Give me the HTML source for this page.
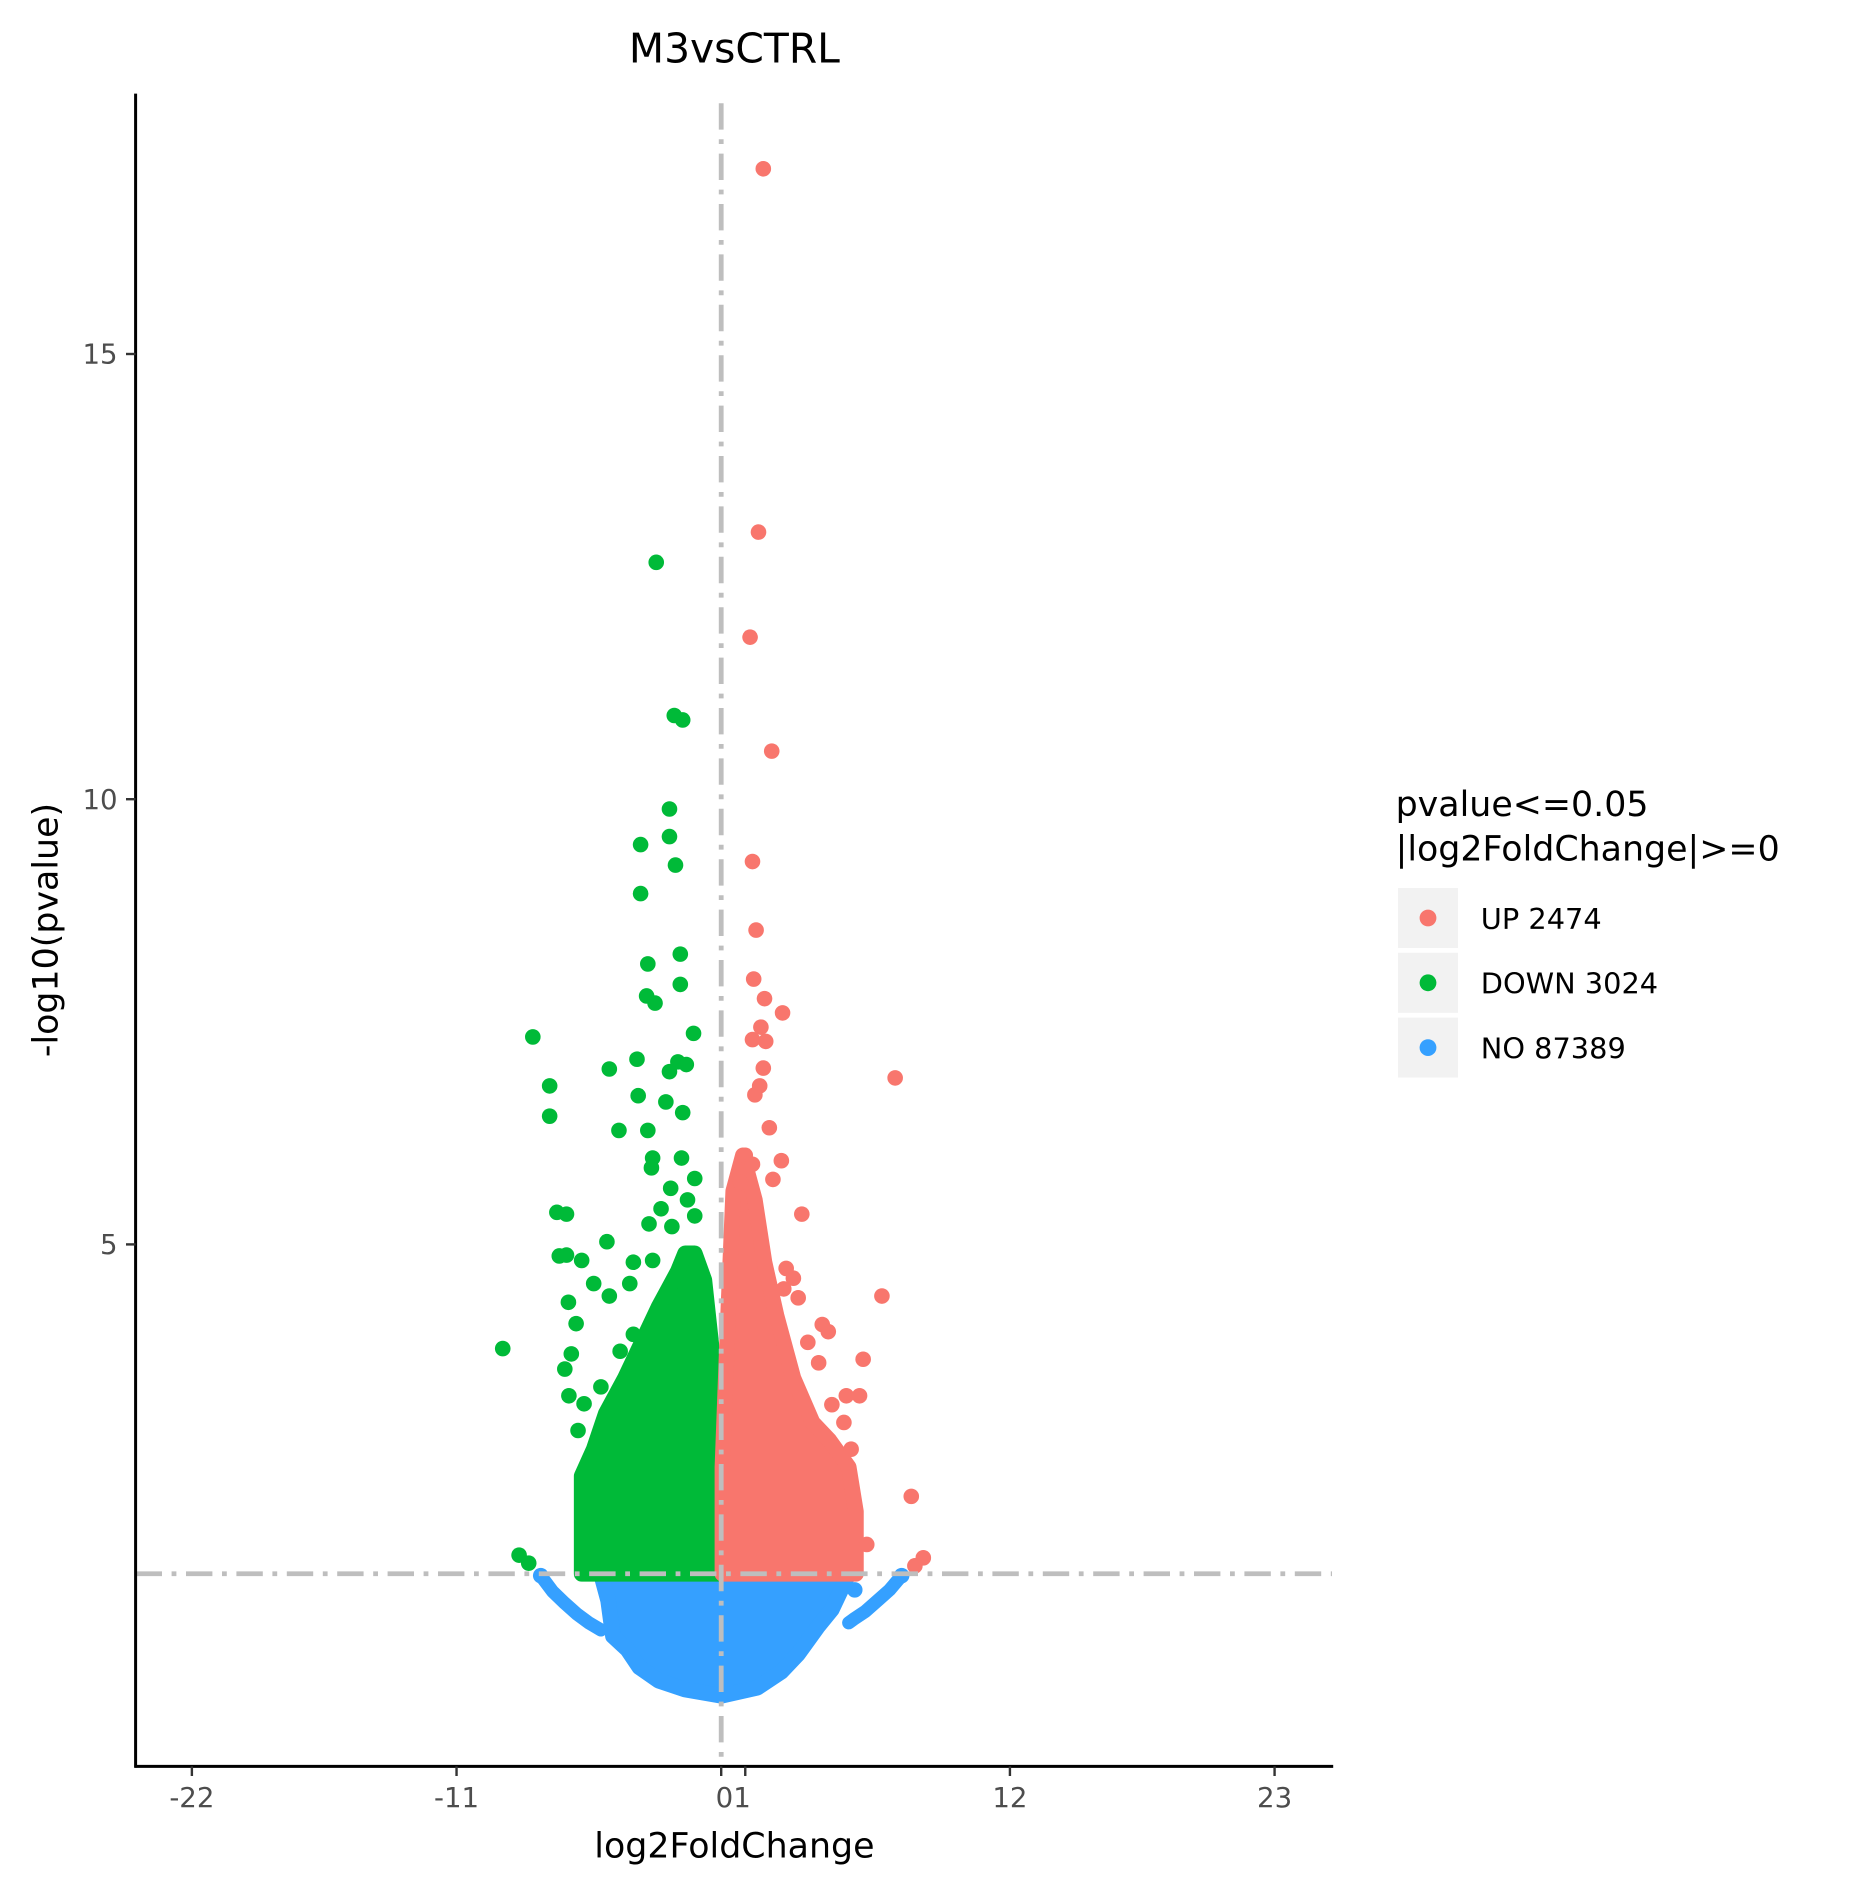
<!DOCTYPE html>
<html><head><meta charset="utf-8"><style>body{margin:0;background:#fff}svg{display:block;font-family:"DejaVu Sans","Liberation Sans",sans-serif}</style></head>
<body>
<svg id="chart" width="1860" height="1884" viewBox="0 0 1550 1570" xmlns="http://www.w3.org/2000/svg">
<rect width="1550" height="1570" fill="#fff"/>
<text x="612" y="52" font-size="34" text-anchor="middle">M3vsCTRL</text>
<g id="dense"></g><g id="pts"></g><g id="refs"></g>
<line x1="113" y1="78" x2="113" y2="1473" stroke="#000" stroke-width="2.5"/>
<line x1="112" y1="1472" x2="1111" y2="1472" stroke="#000" stroke-width="2.5"/>
<g id="ticks"></g>
<text x="612" y="1548" font-size="29" text-anchor="middle">log2FoldChange</text>
<text transform="translate(48,775) rotate(-90)" font-size="29" text-anchor="middle">-log10(pvalue)</text>
<g>
<text x="1163" y="680" font-size="29">pvalue&lt;=0.05</text>
<text x="1163" y="717" font-size="29">|log2FoldChange|&gt;=0</text>
<g><rect x="1165" y="740" width="50" height="50" fill="#f2f2f2"/><circle cx="1190" cy="765" r="7" fill="#F8766D"/><text x="1234" y="774" font-size="24">UP 2474</text></g>
<g><rect x="1165" y="794" width="50" height="50" fill="#f2f2f2"/><circle cx="1190" cy="819" r="7" fill="#00BA38"/><text x="1234" y="828" font-size="24">DOWN 3024</text></g>
<g><rect x="1165" y="848" width="50" height="50" fill="#f2f2f2"/><circle cx="1190" cy="873" r="7" fill="#35A0FF"/><text x="1234" y="882" font-size="24">NO 87389</text></g>
</g>
</svg>
<script>
const xTicks=[-22,-11,0,1,12,23];
const yTicks=[5,10,15];
const upPoints=[[1.75,17.08],[1.55,13.0],[1.2,11.82],[2.1,10.54],[1.3,9.3],[1.45,8.53],[1.35,7.98],[1.8,7.76],[2.55,7.6],[1.65,7.44],[1.85,7.28],[1.3,7.3],[1.75,6.98],[7.23,6.87],[1.6,6.78],[1.4,6.68],[2.0,6.31],[2.5,5.94],[2.15,5.73],[3.35,5.34],[2.7,4.73],[6.68,4.42],[3.0,4.62],[4.2,4.1],[4.45,4.02],[5.9,3.71],[4.05,3.67],[5.2,3.3],[5.75,3.3],[7.9,2.17],[6.05,1.63],[8.4,1.48],[8.05,1.39],[1.0,6.0],[1.3,5.9],[0.8,5.7],[3.2,4.4],[2.6,4.5],[3.6,3.9],[5.1,3.0],[5.4,2.7],[4.6,3.2]];
const downPoints=[[-2.7,12.66],[-1.95,10.94],[-1.6,10.89],[-2.15,9.89],[-2.15,9.58],[-3.35,9.49],[-1.9,9.26],[-3.35,8.94],[-1.7,8.26],[-3.05,8.15],[-1.7,7.92],[-3.1,7.79],[-2.75,7.71],[-1.15,7.37],[-7.83,7.33],[-3.5,7.08],[-4.65,6.97],[-1.8,7.05],[-2.15,6.94],[-1.45,7.02],[-7.13,6.78],[-3.45,6.67],[-2.3,6.6],[-7.13,6.44],[-1.6,6.48],[-4.25,6.28],[-3.05,6.28],[-2.85,5.97],[-1.65,5.97],[-2.9,5.86],[-1.1,5.74],[-2.1,5.63],[-6.83,5.36],[-6.43,5.34],[-3.0,5.23],[-2.05,5.2],[-1.1,5.32],[-4.75,5.03],[-6.73,4.87],[-6.43,4.88],[-5.8,4.82],[-3.65,4.8],[-2.85,4.82],[-9.08,3.83],[-8.4,1.51],[-8.0,1.42],[-5.3,4.56],[-6.35,4.35],[-6.03,4.11],[-6.23,3.77],[-6.33,3.3],[-5.7,3.21],[-5.95,2.91],[-4.65,4.42],[-3.8,4.56],[-3.65,3.99],[-2.5,5.4],[-1.4,5.5],[-4.2,3.8],[-5.0,3.4],[-6.5,3.6]];
const noPoints=[[5.55,1.12],[-7.5,1.28],[7.5,1.28]];
const downEnvelope=[[-5.8,1.3],[-5.8,2.4],[-5.3,2.7],[-4.8,3.1],[-4.0,3.5],[-3.3,3.9],[-2.6,4.3],[-2.2,4.5],[-1.8,4.7],[-1.5,4.9],[-1.1,4.9],[-0.7,4.6],[-0.3,3.6],[0,2.4],[0,1.3]];
const upEnvelope=[[0.05,1.3],[0.05,2.5],[0.3,4.3],[0.5,5.6],[0.9,6.0],[1.4,5.5],[1.8,4.8],[2.3,4.2],[3.0,3.5],[3.8,3.0],[4.5,2.8],[5.3,2.5],[5.6,2.0],[5.6,1.3]];
const noEnvelope=[[-5.0,1.3],[-4.7,1.0],[-4.5,0.6],[-3.9,0.45],[-3.4,0.25],[-2.6,0.1],[-1.5,0.0],[0,-0.07],[1.5,0.02],[2.5,0.2],[3.2,0.4],[4.0,0.7],[4.6,0.9],[5.3,1.3]];
const noArmLeft=[[-7.5,1.28],[-7.0,1.1],[-6.5,0.97],[-6.0,0.85],[-5.5,0.75],[-5.0,0.67]];
const noArmRight=[[7.5,1.28],[7.0,1.12],[6.5,1.0],[6.0,0.88],[5.5,0.79],[5.3,0.75]];
const pThreshold=1.301;

const NS="http://www.w3.org/2000/svg";
const sx=v=>601+v*20.05;
const sy=v=>1408-v*74.2;
function mk(tag,parent){const e=document.createElementNS(NS,tag);document.getElementById(parent).appendChild(e);return e;}
function ptsStr(a){return a.map(p=>sx(p[0])+","+sy(p[1])).join(" ");}
function region(a,col,name){
  const e=mk("polygon","dense");
  
  
  e.setAttribute("points",ptsStr(a));e.setAttribute("fill",col);e.setAttribute("stroke",col);
  e.setAttribute("stroke-width","13");e.setAttribute("stroke-linejoin","round");
}
function arm(a,col,name){
  const e=mk("polyline","dense");
  
  
  e.setAttribute("points",ptsStr(a));e.setAttribute("fill","none");e.setAttribute("stroke",col);
  e.setAttribute("stroke-width","11");e.setAttribute("stroke-linecap","round");e.setAttribute("stroke-linejoin","round");
}
region(noEnvelope.concat([[-5.0,1.3]]),"#35A0FF","no-dense-region");
arm(noArmLeft,"#35A0FF","no-left-arm");
arm(noArmRight,"#35A0FF","no-right-arm");
region(downEnvelope,"#00BA38","down-dense-region");
region(upEnvelope,"#F8766D","up-dense-region");
function dots(a,col,name){
  a.forEach(p=>{
    const c=mk("circle","pts");
    
    
    c.setAttribute("cx",sx(p[0]));c.setAttribute("cy",sy(p[1]));c.setAttribute("r","6.5");c.setAttribute("fill",col);
  });
}
dots(noPoints,"#35A0FF","no-point");
dots(downPoints,"#00BA38","down-point");
dots(upPoints,"#F8766D","up-point");
const vl=mk("line","refs");


vl.setAttribute("x1",sx(0));vl.setAttribute("x2",sx(0));vl.setAttribute("y1",86);vl.setAttribute("y2",1472);
vl.setAttribute("stroke","#BEBEBE");vl.setAttribute("stroke-width","4");vl.setAttribute("stroke-dasharray","22,8,4,8");
const hl=mk("line","refs");


hl.setAttribute("x1",113);hl.setAttribute("x2",1110);hl.setAttribute("y1",sy(pThreshold));hl.setAttribute("y2",sy(pThreshold));
hl.setAttribute("stroke","#BEBEBE");hl.setAttribute("stroke-width","4");hl.setAttribute("stroke-dasharray","22,8,4,8");
xTicks.forEach(t=>{
  const l=mk("line","ticks");
  
  
  l.setAttribute("x1",sx(t));l.setAttribute("x2",sx(t));l.setAttribute("y1",1472);l.setAttribute("y2",1480);l.setAttribute("stroke","#333");l.setAttribute("stroke-width","2");
});
const xl=mk("text","ticks");


[[-22,"-22"],[-11,"-11"],[0.5,"01"],[12,"12"],[23,"23"]].forEach(p=>{
  const ts=document.createElementNS(NS,"tspan");ts.setAttribute("x",sx(p[0]));ts.setAttribute("y",1506);ts.textContent=p[1];xl.appendChild(ts);
});
xl.setAttribute("font-size","23");xl.setAttribute("fill","#4d4d4d");xl.setAttribute("text-anchor","middle");
yTicks.forEach(t=>{
  const l=mk("line","ticks");
  
  
  l.setAttribute("x1",105);l.setAttribute("x2",113);l.setAttribute("y1",sy(t));l.setAttribute("y2",sy(t));l.setAttribute("stroke","#333");l.setAttribute("stroke-width","2");
  const tx=mk("text","ticks");
  
  
  tx.setAttribute("x",98);tx.setAttribute("y",sy(t)+8);tx.setAttribute("font-size","23");tx.setAttribute("fill","#4d4d4d");tx.setAttribute("text-anchor","end");tx.textContent=t;
});
</script>
</body></html>
